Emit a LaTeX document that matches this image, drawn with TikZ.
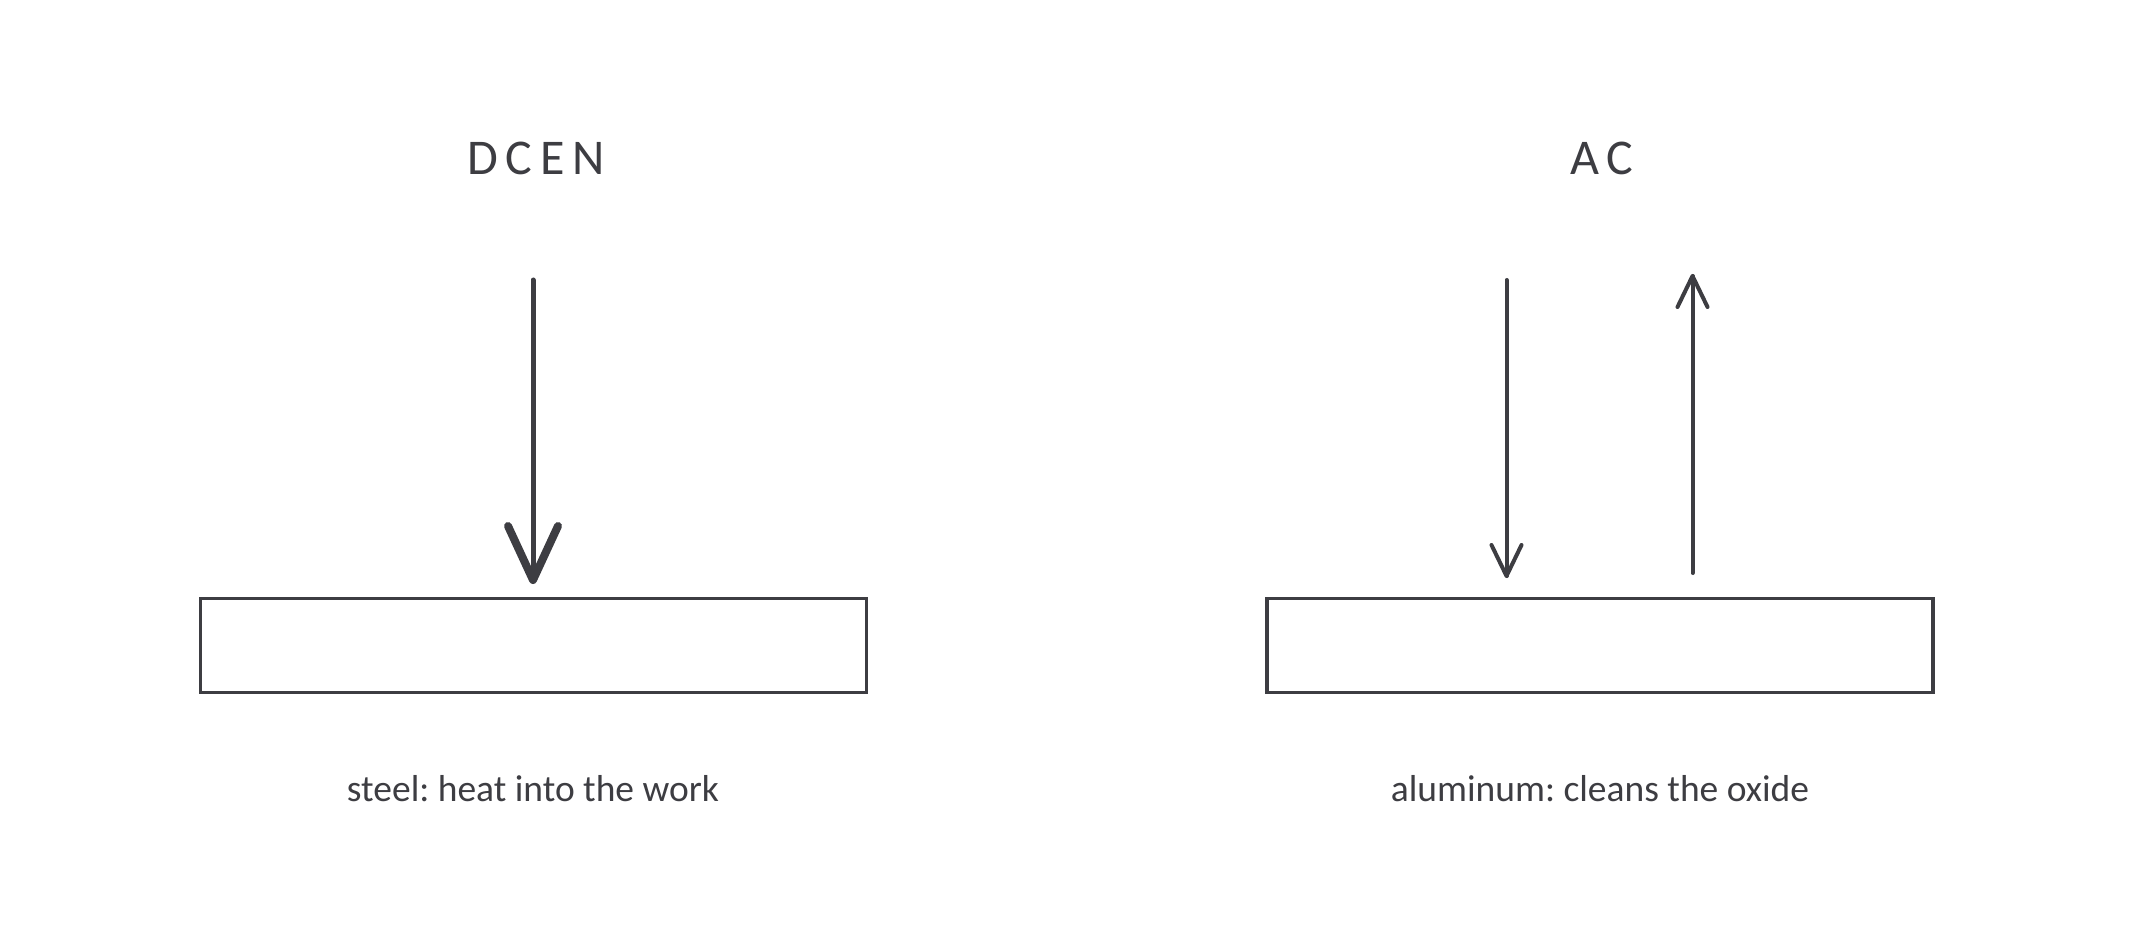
\documentclass[tikz,border=0pt]{standalone}
\usepackage{fontspec}
\setmainfont{Carlito}
\frenchspacing
\usetikzlibrary{calc}
\definecolor{ink}{RGB}{61,61,66}
\tikzset{
  work/.style={draw=ink, line width=3.5pt, minimum width=666pt, minimum height=94pt, inner sep=0pt},
  title/.style={text=ink, font=\fontsize{50}{54}\selectfont\addfontfeature{LetterSpace=15}, inner sep=0pt},
  caption/.style={text=ink, font=\fontsize{37.5}{42}\selectfont, inner sep=0pt},
  thickshaft/.style={draw=ink, line width=5pt, line cap=round},
  thickhead/.style={draw=ink, line width=8pt, line cap=round, line join=round},
  thinarrow/.style={draw=ink, line width=4pt, line cap=round, line join=round}
}
\begin{document}
\begin{tikzpicture}[x=1pt, y=-1pt]
\useasboundingbox[fill=white] (0,0) rectangle (2133,933);
% titles
\node[title] (dcen) at (536,158) {DCEN};
\node[title] (ac) at (1602,158) {AC};
% workpieces
\node[work] (wl) at (533.25,645.5) {};
\node[work] (wr) at (1599.75,645.5) {};
% captions
\node[caption] (cl) at (533,789) {steel: heat into the work};
\node[caption] (cr) at (1600,789) {aluminum: cleans the oxide};
% DCEN arrow
\coordinate (ls) at (533,280);
\coordinate (lt) at (533,580);
\draw[thickshaft] (ls) -- (lt);
\draw[thickhead] ($(lt)+(-25,-54)$) -- (lt) -- ($(lt)+(25,-54)$);
% AC down arrow
\coordinate (ds) at (1506.5,280);
\coordinate (dt) at (1506.5,576);
\draw[thinarrow] (ds) -- (dt);
\draw[thinarrow] ($(dt)+(-15,-31)$) -- (dt) -- ($(dt)+(15,-31)$);
% AC up arrow
\coordinate (us) at (1692.5,573);
\coordinate (ut) at (1692.5,276);
\draw[thinarrow] (us) -- (ut);
\draw[thinarrow] ($(ut)+(-15,31)$) -- (ut) -- ($(ut)+(15,31)$);
\end{tikzpicture}
\end{document}
